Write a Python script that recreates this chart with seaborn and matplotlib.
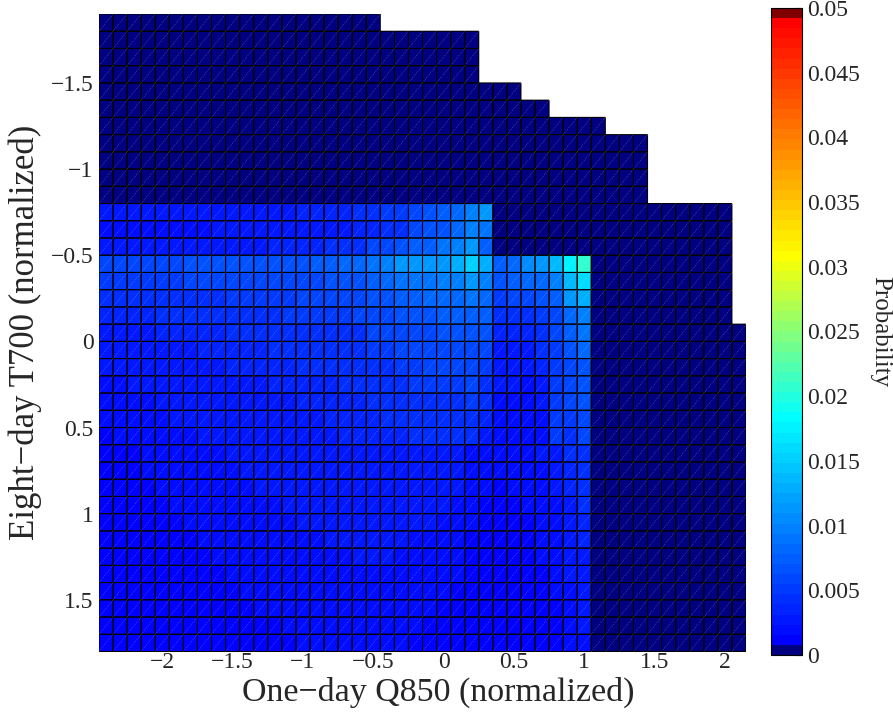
import numpy as np
import pandas as pd
import matplotlib
matplotlib.use("Agg")
import matplotlib.pyplot as plt
from matplotlib.colors import ListedColormap
from matplotlib.collections import LineCollection
import seaborn as sns


# grid of the 2-D histogram (normalized units)
x_first_edge = -2.45
y_first_edge = -1.9
cell_size = 0.1
n_cols = 46

x_ticks = [-2, -1.5, -1, -0.5, 0, 0.5, 1, 1.5, 2]
y_ticks = [-1.5, -1, -0.5, 0, 0.5, 1, 1.5]
cbar_ticks = [0, 0.005, 0.01, 0.015, 0.02, 0.025, 0.03, 0.035, 0.04, 0.045, 0.05]

# one character per cell: index in LEVELS times LEVEL_STEP, "." = no data
LEVELS = "0123456789abcdefghijklmnopqrstuvwxyzABCDEFGHIJ"
LEVEL_STEP = 0.0005

top_rows = [
    "0" * 20 + "." * 26,
    "0" * 27 + "." * 19,
    "0" * 27 + "." * 19,
    "0" * 27 + "." * 19,
    "0" * 30 + "." * 16,
    "0" * 32 + "." * 14,
    "0" * 36 + "." * 10,
    "0" * 39 + "." * 7,
    "0" * 39 + "." * 7,
    "0" * 39 + "." * 7,
    "0" * 39 + "." * 7,
]

upper_rows = [
    "5555555556666677778" + "9aacdfhkn" + "0" * 17 + ".",
    "4444444455555566667" + "788cddhki" + "0" * 17 + ".",
    "5555556666667777888" + "ccdffiknf" + "0" * 17 + ".",
]

middle_rows = [
    "ccccccddddddeeeffgg" + "ikmmmnpuqfhlnrzG" + "0" * 10 + ".",
    "aaaaaabbbbbbccccddd" + "fhiiikkmkdfhhkrw" + "0" * 10 + ".",
    "888899999aaaaabbbbc" + "ddffhhhihaccdfmp" + "0" * 10 + ".",
    "7777888889999aaaaab" + "ccdddffff888acgk" + "0" * 10 + ".",
    "6666777778888899999" + "bbcccdddd7779cfi" + "0" * 11,
    "5566666777778888899" + "aabbbcccb6668adg" + "0" * 11,
    "5555666667777788888" + "99aabbbba5557ace" + "0" * 11,
    "4455555666667777788" + "899aaaab95546acd" + "0" * 11,
    "4444555556666677777" + "8899999a84445abd" + "0" * 11,
    "4444455555566666777" + "7888899974444aac" + "0" * 11,
    "3444444555556666677" + "7778888864444a9b" + "0" * 11,
]

lower_rows = [
    "3334444445555555666" + "6666655444445689" + "0" * 11,
    "3334444444555555566" + "6665555444444578" + "0" * 11,
    "3333444444455555555" + "5566555443444578" + "0" * 11,
    "3333344444444555555" + "5555554433344468" + "0" * 11,
    "3333334444444455555" + "5555544433334467" + "0" * 11,
    "3333333444444444555" + "5554444333334457" + "0" * 11,
    "3333333344444444445" + "5544444333334456" + "0" * 11,
    "3333333334444444444" + "4444444333333456" + "0" * 11,
    "3333333333444444444" + "4444443333333445" + "0" * 11,
    "3333333333344444444" + "4444433333333345" + "0" * 11,
    "3333333333333444444" + "4444333333333345" + "0" * 11,
    "3333333333333344444" + "4443333333333344" + "0" * 11,
]

rows = top_rows + upper_rows + middle_rows + lower_rows


def decode(row):
    return [np.nan if ch == "." else LEVELS.index(ch) * LEVEL_STEP for ch in row]


prob = np.array([decode(r) for r in rows])
empty = np.isnan(prob)
n_rows = prob.shape[0]
x_centers = np.round(x_first_edge + cell_size * (np.arange(n_cols) + 0.5), 2)
y_centers = np.round(y_first_edge + cell_size * (np.arange(n_rows) + 0.5), 2)
df = pd.DataFrame(prob, index=y_centers, columns=x_centers)

# 64-entry jet-like colormap: navy for empty cells, dark red on top
anchors = [(0, (0, 0, 0.5)), (1, (0, 0, 1)), (23, (0, 1, 1)),
           (39, (1, 1, 0)), (62, (1, 0, 0)), (63, (0.5, 0, 0))]
idx = np.arange(64)
pos = [a[0] for a in anchors]
colors = np.column_stack([np.interp(idx, pos, [a[1][k] for a in anchors])
                          for k in range(3)])
cmap = ListedColormap(colors)

sns.set_style("white")
plt.rcParams["font.family"] = ["Liberation Serif", "DejaVu Serif"]

fig = plt.figure(figsize=(8.93, 7.15), dpi=100)
ax = fig.add_axes([99 / 893, 1 - 651.5 / 715, 647 / 893, 637.5 / 715])
cax = fig.add_axes([771 / 893, 1 - 655 / 715, 31 / 893, 647 / 715])

sns.heatmap(
    df,
    ax=ax,
    cbar_ax=cax,
    cmap=cmap,
    vmin=0,
    vmax=0.05,
    linewidths=0,
    xticklabels=False,
    yticklabels=False,
    cbar_kws={"ticks": cbar_ticks},
)
mesh = ax.collections[0]

# cell borders only around cells that hold data
borders = []
for r in range(n_rows):
    for c in range(n_cols):
        if empty[r, c]:
            continue
        borders += [[(c, r), (c + 1, r)], [(c, r + 1), (c + 1, r + 1)],
                    [(c, r), (c, r + 1)], [(c + 1, r), (c + 1, r + 1)]]
grid = LineCollection(borders, colors="black", linewidths=0.75)
grid.set_snap(False)
ax.add_collection(grid)

# faint diagonal of each cell, as in the original export
segs = [[(c, r + 1), (c + 1, r)]
        for r in range(n_rows) for c in range(n_cols) if not empty[r, c]]
ax.add_collection(LineCollection(segs, colors=[(1, 1, 1, 0.3)],
                                 linewidths=0.5, linestyles=(0, (1.5, 1.5))))


def fmt(v):
    return f"{v:g}".replace("-", "\u2212")


ax.set_xticks([(t - x_first_edge) / cell_size for t in x_ticks])
ax.set_xticklabels([fmt(t) for t in x_ticks], fontsize=17)
ax.set_yticks([(t - y_first_edge) / cell_size for t in y_ticks])
ax.set_yticklabels([fmt(t) for t in y_ticks], fontsize=17, rotation=0)
ax.tick_params(axis="x", length=0, pad=0)
ax.tick_params(axis="y", length=0, pad=4)

ax.set_xlabel("One\u2212day Q850 (normalized)", fontsize=24.5)
ax.set_ylabel("Eight\u2212day T700 (normalized)", fontsize=25)
ax.xaxis.set_label_coords(0.524, -0.040)
ax.yaxis.set_label_coords(-0.088, 0.5)

cb = mesh.colorbar
cb.outline.set_visible(True)
cb.outline.set_linewidth(0.8)
cb.outline.set_edgecolor("black")
cax.tick_params(direction="in", length=5, width=0.8, color="black",
                labelsize=17, pad=4)
cax.set_yticklabels([fmt(t) for t in cbar_ticks])
cb.set_label("Probability", fontsize=18, rotation=270, labelpad=22)

fig.savefig("out.png", dpi=100)
